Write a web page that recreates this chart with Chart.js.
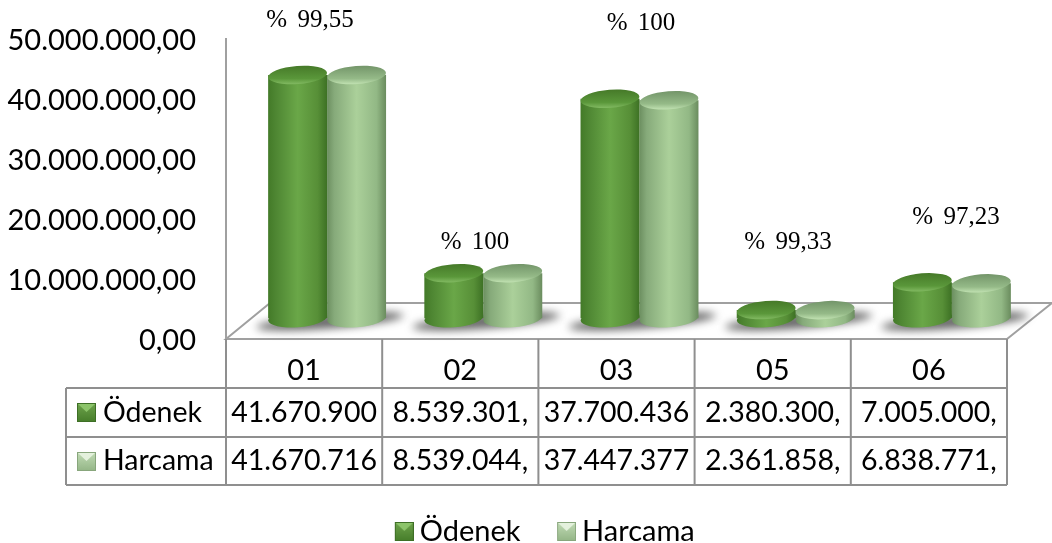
<!DOCTYPE html>
<html lang="tr">
<head>
  <meta charset="UTF-8" />
  <title>Ödenek ve Harcama</title>
  <script src="https://cdn.jsdelivr.net/npm/chart.js"></script>
  <style>
    body { margin: 0; background: #fff; }
    canvas { display: block; }
  </style>
</head>
<body>
  <canvas id="chart" width="1052" height="543"></canvas>

  <script>
    const categories = ['01', '02', '03', '05', '06'];
    const odenek = [41670900, 8539301, 37700436, 2380300, 7005000];
    const harcama = [41670716, 8539044, 37447377, 2361858, 6838771];
    const odenekCells = ['41.670.900', '8.539.301,', '37.700.436', '2.380.300,', '7.005.000,'];
    const harcamaCells = ['41.670.716', '8.539.044,', '37.447.377', '2.361.858,', '6.838.771,'];
    const percentLabels = ['% 99,55', '% 100', '% 100', '% 99,33', '% 97,23'];
    // the percent boxes were placed by hand in the original, so they sit apart from the bars
    const percentX = [310, 475, 641, 788, 956];
    const percentY = [20, 242, 23, 242, 217];

    const LINE = '#a0a0a0';
    const TABLE_LINE = '#8f8f8f';
    const FONT = 'Lato';
    const depthX = 23; // bars stand further back on the floor than the axis
    const backDx = 44, backDy = 36;

    const bodyStops = [
      [[0, '#437a28'], [0.14, '#4f8733'], [0.5, '#6aa748'], [0.84, '#578f37'], [1, '#3d7124']],
      [[0, '#6c8f60'], [0.12, '#86aa7a'], [0.5, '#abd09a'], [0.84, '#92b885'], [1, '#6a8c5e']]
    ];
    const capStops = [
      [[0, '#467a29'], [0.7, '#5a973a'], [1, '#80b860']],
      [[0, '#74966a'], [0.7, '#95ba88'], [1, '#bfe0b0']]
    ];

    // margin is empty room on the left of the swatch, used to space the legend items
    function makeMarker(i, margin) {
      const c = document.createElement('canvas');
      c.width = 19 + margin; c.height = 19;
      const g = c.getContext('2d');
      g.translate(margin, 0);
      const fill = g.createLinearGradient(0, 0, 0, 19);
      fill.addColorStop(0, i ? '#c2dcb6' : '#6ea34c');
      fill.addColorStop(1, i ? '#93b586' : '#467d2a');
      g.fillStyle = fill;
      g.fillRect(0, 0, 19, 19);
      g.fillStyle = i ? '#e4f1dd' : '#8cc46a';
      g.beginPath(); g.moveTo(1, 1); g.lineTo(18, 1); g.lineTo(9.5, 9); g.closePath(); g.fill();
      g.strokeStyle = i ? '#88a67c' : '#3e6f26';
      g.lineWidth = 1;
      g.strokeRect(0.5, 0.5, 18, 18);
      return c;
    }
    const markers = [makeMarker(0, 0), makeMarker(1, 0)];
    const legendMarkers = [makeMarker(0, 35), makeMarker(1, 35)];

    function barGradient(context) {
      if (context.dataIndex === undefined) return bodyStops[context.datasetIndex][2][1];
      const chart = context.chart;
      const xs = chart.scales.x;
      const w = xs.width / categories.length * 0.755 / 2;
      const cx = xs.getPixelForValue(context.dataIndex) + (context.datasetIndex ? w / 2 : -w / 2);
      const g = chart.ctx.createLinearGradient(cx - w / 2, 0, cx + w / 2, 0);
      bodyStops[context.datasetIndex].forEach(s => g.addColorStop(s[0], s[1]));
      return g;
    }

    function drawEllipse(ctx, x, y, rx, ry, fill) {
      ctx.fillStyle = fill;
      ctx.beginPath();
      ctx.ellipse(x, y, rx, ry, -0.08, 0, Math.PI * 2);
      ctx.fill();
    }

    const cylinders = {
      id: 'cylinders',
      afterLayout(chart) {
        // the legend is centred under the whole picture, not under the plot
        chart.legend.left = 56;
        chart.legend.right = 1007;
      },
      beforeDatasetsDraw(chart) {
        const ctx = chart.ctx;
        const a = chart.chartArea;
        // floor
        ctx.save();
        ctx.strokeStyle = LINE;
        ctx.lineWidth = 2;
        ctx.beginPath();
        ctx.moveTo(a.left, a.bottom);
        ctx.lineTo(a.left + backDx, a.bottom - backDy);
        ctx.lineTo(a.right + backDx + 1, a.bottom - backDy);
        ctx.lineTo(a.right, a.bottom);
        ctx.closePath();
        ctx.stroke();
        ctx.restore();

        ctx.save();
        ctx.translate(depthX, 0);
        // shadows under each pair
        const m0 = chart.getDatasetMeta(0), m1 = chart.getDatasetMeta(1);
        ctx.save();
        ctx.filter = 'blur(4px)';
        m0.data.forEach((el, i) => {
          const cx = (el.x + m1.data[i].x) / 2;
          drawEllipse(ctx, cx + 3, el.base + 3, el.width * 1.25, 7, 'rgba(85,85,85,0.9)');
        });
        ctx.restore();
      },
      beforeDatasetDraw(chart, args) {
        const ctx = chart.ctx;
        args.meta.data.forEach(el => {
          const r = el.width / 2;
          const g = ctx.createLinearGradient(el.x - r, 0, el.x + r, 0);
          bodyStops[args.index].forEach(s => g.addColorStop(s[0], s[1]));
          drawEllipse(ctx, el.x, el.base, r, 9, g);
        });
      },
      afterDatasetDraw(chart, args) {
        const ctx = chart.ctx;
        args.meta.data.forEach(el => {
          const r = el.width / 2;
          const g = ctx.createLinearGradient(0, el.y - 9, 0, el.y + 9);
          capStops[args.index].forEach(s => g.addColorStop(s[0], s[1]));
          drawEllipse(ctx, el.x, el.y, r, 9, g);
        });
      },
      afterDatasetsDraw(chart) {
        chart.ctx.restore();
      },
      afterDraw(chart) {
        const ctx = chart.ctx;
        const a = chart.chartArea;
        const xs = chart.scales.x;
        const rowTop = 388, rowMid = 437, rowEnd = 485, tableLeft = 66;
        const cell = xs.width / categories.length;

        ctx.save();
        ctx.strokeStyle = TABLE_LINE;
        ctx.lineWidth = 2;
        ctx.beginPath();
        [rowTop, rowMid, rowEnd].forEach(y => {
          ctx.moveTo(tableLeft, y);
          ctx.lineTo(a.right, y);
        });
        ctx.moveTo(tableLeft, rowTop);
        ctx.lineTo(tableLeft, rowEnd);
        for (let i = 0; i <= categories.length; i++) {
          ctx.moveTo(a.left + cell * i, a.bottom);
          ctx.lineTo(a.left + cell * i, rowEnd);
        }
        ctx.stroke();

        ctx.fillStyle = '#000';
        ctx.textBaseline = 'middle';
        ctx.font = '28.5px ' + FONT;
        ctx.textAlign = 'left';
        ctx.fillText('Ödenek', 103, (rowTop + rowMid) / 2);
        ctx.fillText('Harcama', 103, (rowMid + rowEnd) / 2);
        ctx.drawImage(markers[0], 77, 403);
        ctx.drawImage(markers[1], 77, 452);
        ctx.textAlign = 'center';
        categories.forEach((c, i) => {
          const x = xs.getPixelForValue(i);
          ctx.fillText(odenekCells[i], x, (rowTop + rowMid) / 2);
          ctx.fillText(harcamaCells[i], x, (rowMid + rowEnd) / 2);
        });

        ctx.font = '25px "Liberation Serif"';
        ctx.wordSpacing = '4px';
        percentLabels.forEach((t, i) => ctx.fillText(t, percentX[i], percentY[i]));
        ctx.restore();
      }
    };

    new Chart(document.getElementById('chart'), {
      type: 'bar',
      data: {
        labels: categories,
        datasets: [
          { label: 'Ödenek', data: odenek, yAxisID: 'yBar', base: 1000000, clip: false,
            backgroundColor: barGradient, borderWidth: 0 },
          { label: 'Harcama', data: harcama, yAxisID: 'yBar', base: 1000000, clip: false,
            backgroundColor: barGradient, borderWidth: 0 }
        ]
      },
      options: {
        responsive: false,
        animation: false,
        barPercentage: 1,
        categoryPercentage: 0.755,
        layout: { autoPadding: false, padding: { top: 39, right: 45, left: 0, bottom: -13 } },
        scales: {
          x: {
            grid: { display: false },
            border: { display: false },
            ticks: { color: '#000', font: { family: FONT, size: 29 }, padding: 6, maxRotation: 0 },
            afterFit(scale) { scale.height = 168; }
          },
          y: {
            position: 'left',
            min: 0,
            max: 50000000,
            grid: { display: false, drawTicks: false },
            border: { display: true, color: LINE, width: 2 },
            ticks: {
              stepSize: 10000000,
              padding: 30,
              labelOffset: 2,
              color: '#000',
              font: { family: FONT, size: 29 },
              callback: v => (v / 1000000 === 0 ? '0,00' : (v / 1000000) + '.000.000,00')
            },
            afterFit(scale) {
              scale.width = 226;
              scale.paddingTop = 0;
              scale.paddingBottom = 0;
            }
          },
          // bars sit on a projected scale, a little flatter and higher than the wall axis
          yBar: { display: false, position: 'left', min: -2470000, max: 47690000 }
        },
        plugins: {
          tooltip: { enabled: false },
          legend: {
            position: 'bottom',
            labels: {
              usePointStyle: true,
              pointStyleWidth: 37,
              padding: 10,
              color: '#000',
              font: { family: FONT, size: 29 },
              generateLabels: chart => chart.data.datasets.map((d, i) => ({
                text: d.label,
                pointStyle: legendMarkers[i],
                datasetIndex: i,
                fontColor: '#000'
              }))
            }
          }
        }
      },
      plugins: [cylinders]
    });
  </script>
</body>
</html>
